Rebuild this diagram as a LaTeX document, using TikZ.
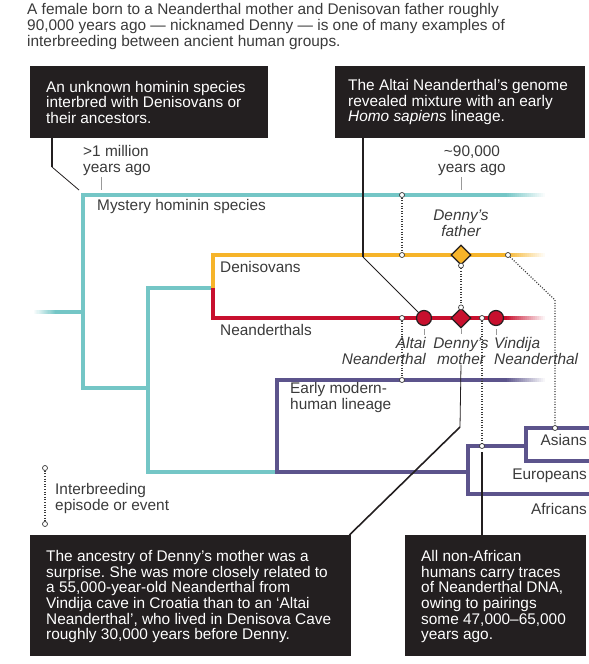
\documentclass[tikz,border=0pt]{standalone}
\usepackage{fontspec}
\setmainfont{Liberation Sans}
\usetikzlibrary{calc,shapes.geometric}
\definecolor{mystery}{HTML}{74C6C6}
\definecolor{deniso}{HTML}{F6B42A}
\definecolor{neander}{HTML}{C8102E}
\definecolor{modern}{HTML}{5C548C}
\definecolor{boxbg}{HTML}{231F20}
\definecolor{ink}{HTML}{3A3A3A}
\frenchspacing
% fade a lineage out to the right: (start)(colour)
\def\fadeout(#1)(#2){\foreach \i [evaluate=\i as \p using int(100-5*\i)] in {0,...,19}
  \fill[#2!\p] ($(#1)+(2*\i,-2.25)$) rectangle ++(2.2,4.5);}
% fade a lineage in from the left: (start)(colour)
\def\fadein(#1)(#2){\foreach \i [evaluate=\i as \p using int(5*\i)] in {0,...,19}
  \fill[#2!\p] ($(#1)+(1.1*\i,-2.25)$) rectangle ++(1.2,4.5);}
\tikzset{
  lineage/.style={line width=4.5pt, line join=miter},
  callout/.style={fill=boxbg, anchor=north west, inner sep=0pt},
  boxtext/.style={text=white, anchor=west, inner sep=0pt, align=left,
    font=\fontsize{15.4}{15.7}\selectfont},
  pointer/.style={line width=2pt, boxbg},
  thinptr/.style={line width=0.8pt, boxbg},
  cross/.style={line width=1.2pt, dash pattern=on 1pt off 1.6pt, ink},
  evdot/.style={circle, draw=ink, fill=white, line width=0.7pt, inner sep=0pt, minimum size=5pt},
  fossil/.style={circle, draw=boxbg, fill=neander, line width=1.2pt, inner sep=0pt, minimum size=15pt},
  parent/.style={diamond, draw=boxbg, line width=1.2pt, inner sep=0pt, minimum size=20pt},
  lbl/.style={text=ink, inner sep=0pt, font=\fontsize{15.4}{16}\selectfont},
  ilbl/.style={lbl, font=\fontsize{15.4}{16}\selectfont\itshape},
  tick/.style={line width=0.6pt, black!40},
}
\begin{document}
\begin{tikzpicture}[x=1pt, y=-1pt]
\useasboundingbox (0,0) rectangle (589,664);

%%% title
\node[lbl, anchor=north west, align=left] (title) at (27,3)
  {A female born to a Neanderthal mother and Denisovan father roughly\\
   90,000 years ago — nicknamed Denny — is one of many examples of\\
   interbreeding between ancient human groups.};

%%% lineages
\coordinate (root) at (33,312);
\coordinate (mysJ) at (83,312);
\coordinate (mysTop) at (83,195);
\coordinate (mysEnd) at (505,195);
\coordinate (splitA) at (83,388);
\coordinate (splitB) at (148,388);
\coordinate (neoTop) at (148,288);
\coordinate (neoJ) at (213,288);
\coordinate (denTop) at (213,255);
\coordinate (denEnd) at (505,255);
\coordinate (neaBot) at (213,318);
\coordinate (neaEnd) at (505,318);
\coordinate (humBot) at (148,472);
\coordinate (humJ) at (277,472);
\coordinate (earTop) at (277,380);
\coordinate (earEnd) at (505,380);
\coordinate (afrJ) at (468,472);
\coordinate (nonAfr) at (468,446);
\coordinate (afrBot) at (468,494);
\coordinate (afrEnd) at (589,494);
\coordinate (eurasJ) at (526,446);
\coordinate (asiTop) at (526,428);
\coordinate (asiEnd) at (589,428);
\coordinate (eurBot) at (526,461);
\coordinate (eurEnd) at (589,461);

\fadein(root)(mystery)
\draw[lineage, mystery] ($(root)+(22,0)$) -- (mysJ);
\draw[lineage, mystery] (mysEnd) -- (mysTop) -- (splitA) -- (splitB);
\draw[lineage, mystery] (neoJ) -- (neoTop) -- (humBot) -- (humJ);
\fadeout(mysEnd)(mystery)

\draw[lineage, deniso] (neoJ) -- (denTop) -- (denEnd);
\fadeout(denEnd)(deniso)
\draw[lineage, neander] (neoJ) -- (neaBot) -- (neaEnd);
\fadeout(neaEnd)(neander)

\draw[lineage, modern] (earEnd) -- (earTop) -- (humJ) -- (afrJ);
\fadeout(earEnd)(modern)
\draw[lineage, modern] (eurasJ) -- (nonAfr) -- (afrBot) -- (afrEnd);
\draw[lineage, modern] (asiEnd) -- (asiTop) -- (eurBot) -- (eurEnd);

%%% lineage labels
\node[lbl, anchor=west] (mysLbl) at (97,207) {Mystery hominin species};
\node[lbl, anchor=west] (denLbl) at (220,267) {Denisovans};
\node[lbl, anchor=west] (neaLbl) at (220,330) {Neanderthals};
\node[lbl, anchor=west, align=left] (earLbl) at (290,398) {Early modern-\\human lineage};
\node[lbl, anchor=east] (asiLbl) at (587,440) {Asians};
\node[lbl, anchor=east] (eurLbl) at (587,476) {Europeans};
\node[lbl, anchor=east] (afrLbl) at (587,509) {Africans};

%%% time marks
\node[lbl, anchor=west, align=left] (oldLbl) at (83,161) {>1 million\\years ago};
\node[lbl, align=center] (newLbl) at (472,161) {\char`\~90,000\\years ago};
\draw[tick] (101,177) -- (101,190);
\draw[tick] (461,177) -- (461,190);

%%% interbreeding events
\node[evdot] (ev1a) at (402,195) {};
\node[evdot] (ev1b) at (402,255) {};
\draw[cross] (ev1a) -- (ev1b);
\node[evdot] (ev2a) at (508,255) {};
\coordinate (ev2k) at (555,300);
\node[evdot] (ev2b) at (555,428) {};
\draw[cross] (ev2a) -- (ev2k) -- (ev2b);
\node[evdot] (ev3a) at (402,318) {};
\node[evdot] (ev3b) at (402,380) {};
\draw[cross] (ev3a) -- (ev3b);
\node[evdot] (ev4a) at (482,318) {};
\node[evdot] (ev4b) at (482,446) {};
\draw[cross] (ev4a) -- (ev4b);

%%% Denny's parents and fossils
\node[parent, fill=deniso] (father) at (461,255) {};
\node[parent, fill=neander] (mother) at (461,318) {};
\node[fossil] (altai) at (424,318) {};
\node[fossil] (vindija) at (496,318) {};
\node[evdot] (fatDot) at (father.south) {};
\node[evdot] (motDot) at (mother.north) {};
\draw[cross] (fatDot) -- (motDot);

\node[ilbl, align=center] (fatLbl) at (461,223) {Denny’s\\father};
\node[ilbl, anchor=east, align=right] (altLbl) at (426,351) {Altai\\Neanderthal};
\node[ilbl, align=center] (motLbl) at (461,351) {Denny’s\\mother};
\node[ilbl, anchor=west, align=left] (vinLbl) at (494,351) {Vindija\\Neanderthal};
\draw[tick] (altai.south) ++(0,3) -- ++(0,6);
\draw[tick] (mother.south) -- ++(0,5);
\draw[tick] (vindija.south) ++(0,3) -- ++(0,6);

%%% legend
\node[evdot] (keyA) at (45,468) {};
\node[evdot] (keyB) at (45,524) {};
\draw[cross] (keyA) -- (keyB);
\node[lbl, anchor=west, align=left] (keyLbl) at (55,499) {Interbreeding\\episode or event};

%%% callouts
\node[callout, minimum width=238pt, minimum height=72pt] (box1) at (30,66) {};
\node[boxtext] (box1txt) at ($(box1.west)+(16,0)$)
  {An unknown hominin species\\interbred with Denisovans or\\their ancestors.};
\node[callout, minimum width=250pt, minimum height=72pt] (box2) at (335,66) {};
\node[boxtext] (box2txt) at ($(box2.west)+(13,0)$)
  {The Altai Neanderthal’s genome\\revealed mixture with an early\\\textit{Homo sapiens} lineage.};
\node[callout, minimum width=321pt, minimum height=121pt] (box3) at (30,535) {};
\node[boxtext] (box3txt) at ($(box3.west)+(16,1)$)
  {The ancestry of Denny’s mother was a\\surprise. She was more closely related to\\a 55,000-year-old Neanderthal from\\Vindija cave in Croatia than to an ‘Altai\\Neanderthal’, who lived in Denisova Cave\\roughly 30,000 years before Denny.};
\node[callout, minimum width=181pt, minimum height=121pt] (box4) at (405,535) {};
\node[boxtext] (box4txt) at ($(box4.west)+(16,1)$)
  {All non-African\\humans carry traces\\of Neanderthal DNA,\\owing to pairings\\some 47,000–65,000\\years ago.};

%%% leaders
\coordinate (k1) at (52,167);
\coordinate (k1end) at (79,190);
\draw[pointer] (box1.south -| k1) -- (k1);
\draw[thinptr] (k1) -- (k1end);
\coordinate (k2) at (363,257);
\draw[pointer] (box2.south -| k2) -- (k2);
\draw[thinptr] (k2) -- (altai.north west);
\coordinate (k3) at (460,427);
\draw[thinptr] (motLbl.south) -- (k3);
\draw[pointer, line width=1.6pt] (k3) -- ($(box3.north east)+(-2,0)$);
\draw[pointer] (box4.north -| ev4b) -- ($(ev4b)+(0,6)$);
\end{tikzpicture}
\end{document}
